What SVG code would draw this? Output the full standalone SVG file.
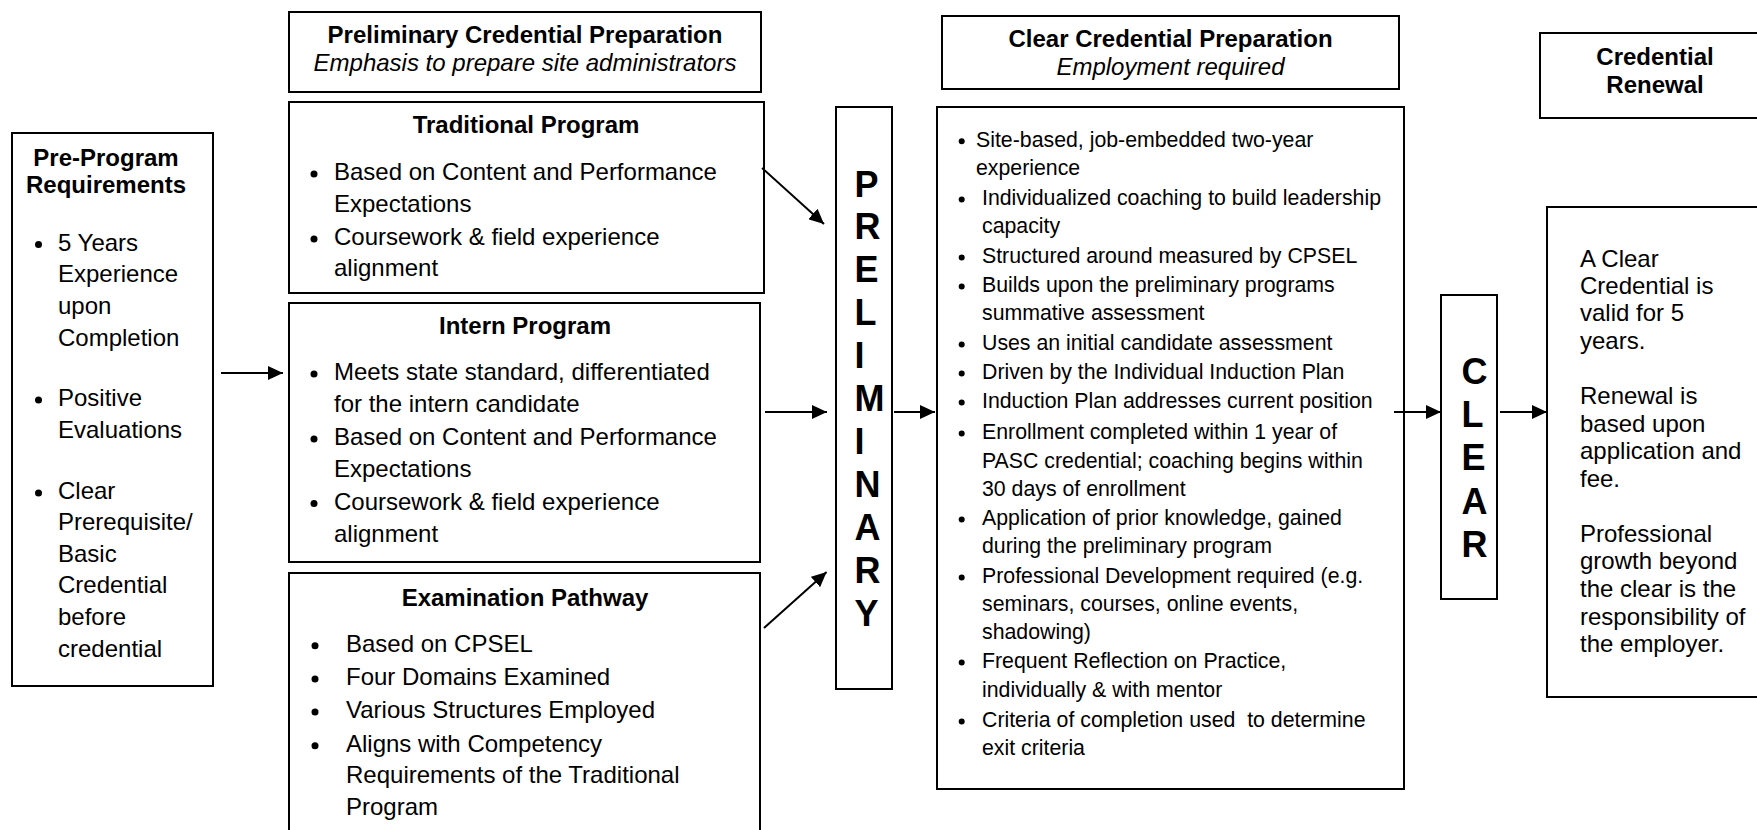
<svg xmlns="http://www.w3.org/2000/svg" width="1757" height="830" viewBox="0 0 1757 830">
<style>
.bx{fill:#fff;stroke:#000;stroke-width:2}
text{font-family:"Liberation Sans",Arial,sans-serif;fill:#000}
.t{font-size:24px}
.s{font-size:21.3px}
.b{font-weight:bold}
.i{font-style:italic}
.c{text-anchor:middle}
.big{font-size:36px;font-weight:bold}
.dot{fill:#000}
.con line{stroke:#000;stroke-width:2;marker-end:url(#ah)}
</style>
<defs>
<marker id="ah" markerUnits="userSpaceOnUse" markerWidth="16" markerHeight="14" refX="15" refY="7" orient="auto">
<path d="M0,0 L15,7 L0,14 z" fill="#000"/>
</marker>
</defs>
<rect width="1757" height="830" fill="#fff"/>

<g id="pre-program">
<rect class="bx" x="12" y="133" width="201" height="553"/>
<text class="t b c"><tspan x="106" y="166">Pre-Program</tspan><tspan x="106" y="193">Requirements</tspan></text>
<circle class="dot" cx="38.5" cy="244.5" r="3.5"/>
<circle class="dot" cx="38.5" cy="400" r="3.5"/>
<circle class="dot" cx="38.5" cy="493" r="3.5"/>
<text class="t"><tspan x="58" y="250.7">5 Years</tspan><tspan x="58" y="282">Experience</tspan><tspan x="58" y="313.5">upon</tspan><tspan x="58" y="345.5">Completion</tspan><tspan x="58" y="406">Positive</tspan><tspan x="58" y="437.5">Evaluations</tspan><tspan x="58" y="499">Clear</tspan><tspan x="58" y="530">Prerequisite/</tspan><tspan x="58" y="562">Basic</tspan><tspan x="58" y="593">Credential</tspan><tspan x="58" y="625">before</tspan><tspan x="58" y="656.5">credential</tspan></text>
</g>

<g id="prelim-header">
<rect class="bx" x="289" y="12" width="472" height="80"/>
<text class="t b c" x="525" y="43">Preliminary Credential Preparation</text>
<text class="t i c" x="525" y="71">Emphasis to prepare site administrators</text>
</g>

<g id="traditional">
<rect class="bx" x="289" y="102" width="475" height="191"/>
<text class="t b c" x="526" y="133">Traditional Program</text>
<circle class="dot" cx="314" cy="174" r="3.5"/>
<circle class="dot" cx="314" cy="239" r="3.5"/>
<text class="t"><tspan x="334" y="180">Based on Content and Performance</tspan><tspan x="334" y="211.5">Expectations</tspan><tspan x="334" y="245">Coursework &amp; field experience</tspan><tspan x="334" y="276">alignment</tspan></text>
</g>

<g id="intern">
<rect class="bx" x="289" y="303" width="471" height="259"/>
<text class="t b c" x="525" y="333.5">Intern Program</text>
<circle class="dot" cx="314" cy="374" r="3.5"/>
<circle class="dot" cx="314" cy="439" r="3.5"/>
<circle class="dot" cx="314" cy="503.5" r="3.5"/>
<text class="t"><tspan x="334" y="380">Meets state standard, differentiated</tspan><tspan x="334" y="412">for the intern candidate</tspan><tspan x="334" y="445">Based on Content and Performance</tspan><tspan x="334" y="477">Expectations</tspan><tspan x="334" y="509.5">Coursework &amp; field experience</tspan><tspan x="334" y="542">alignment</tspan></text>
</g>

<g id="exam">
<rect class="bx" x="289" y="573" width="471" height="262"/>
<text class="t b c" x="525" y="606">Examination Pathway</text>
<circle class="dot" cx="315" cy="645.7" r="3.5"/>
<circle class="dot" cx="315" cy="679" r="3.5"/>
<circle class="dot" cx="315" cy="712" r="3.5"/>
<circle class="dot" cx="315" cy="745.7" r="3.5"/>
<text class="t"><tspan x="346" y="651.7">Based on CPSEL</tspan><tspan x="346" y="685">Four Domains Examined</tspan><tspan x="346" y="718">Various Structures Employed</tspan><tspan x="346" y="751.7">Aligns with Competency</tspan><tspan x="346" y="783">Requirements of the Traditional</tspan><tspan x="346" y="815">Program</tspan></text>
</g>

<g id="preliminary">
<rect class="bx" x="836" y="107" width="56" height="582"/>
<text class="big"><tspan x="854.5" y="196.5">P</tspan><tspan x="854.5" y="239.4">R</tspan><tspan x="854.5" y="282.3">E</tspan><tspan x="854.5" y="325.2">L</tspan><tspan x="854.5" y="368.1">I</tspan><tspan x="854.5" y="411">M</tspan><tspan x="854.5" y="453.9">I</tspan><tspan x="854.5" y="496.8">N</tspan><tspan x="854.5" y="539.7">A</tspan><tspan x="854.5" y="582.6">R</tspan><tspan x="854.5" y="625.5">Y</tspan></text>
</g>

<g id="clear-header">
<rect class="bx" x="942" y="16" width="457" height="73"/>
<text class="t b c" x="1170.5" y="47">Clear Credential Preparation</text>
<text class="t i c" x="1170.5" y="75">Employment required</text>
</g>

<g id="clear-list">
<rect class="bx" x="937" y="107" width="467" height="682"/>
<g class="dots">
<circle class="dot" cx="961.7" cy="141.2" r="3"/>
<circle class="dot" cx="961.7" cy="199.5" r="3"/>
<circle class="dot" cx="961.7" cy="257.5" r="3"/>
<circle class="dot" cx="961.7" cy="286.5" r="3"/>
<circle class="dot" cx="961.7" cy="344.5" r="3"/>
<circle class="dot" cx="961.7" cy="373.5" r="3"/>
<circle class="dot" cx="961.7" cy="402.5" r="3"/>
<circle class="dot" cx="961.7" cy="433.5" r="3"/>
<circle class="dot" cx="961.7" cy="519.5" r="3"/>
<circle class="dot" cx="961.7" cy="577.5" r="3"/>
<circle class="dot" cx="961.7" cy="662.5" r="3"/>
<circle class="dot" cx="961.7" cy="721.5" r="3"/>
</g>
<text class="s" style="white-space:pre"><tspan x="976" y="146.7">Site-based, job-embedded two-year</tspan><tspan x="976" y="175">experience</tspan><tspan x="982" y="205">Individualized coaching to build leadership</tspan><tspan x="982" y="233">capacity</tspan><tspan x="982" y="263">Structured around measured by CPSEL</tspan><tspan x="982" y="292">Builds upon the preliminary programs</tspan><tspan x="982" y="320">summative assessment</tspan><tspan x="982" y="350">Uses an initial candidate assessment</tspan><tspan x="982" y="379">Driven by the Individual Induction Plan</tspan><tspan x="982" y="408">Induction Plan addresses current position</tspan><tspan x="982" y="439">Enrollment completed within 1 year of</tspan><tspan x="982" y="467.5">PASC credential; coaching begins within</tspan><tspan x="982" y="495.5">30 days of enrollment</tspan><tspan x="982" y="525">Application of prior knowledge, gained</tspan><tspan x="982" y="553">during the preliminary program</tspan><tspan x="982" y="583">Professional Development required (e.g.</tspan><tspan x="982" y="610.5">seminars, courses, online events,</tspan><tspan x="982" y="638.5">shadowing)</tspan><tspan x="982" y="668">Frequent Reflection on Practice,</tspan><tspan x="982" y="697">individually &amp; with mentor</tspan><tspan x="982" y="727">Criteria of completion used  to determine</tspan><tspan x="982" y="755">exit criteria</tspan></text>
</g>

<g id="clear">
<rect class="bx" x="1441" y="295" width="56" height="304"/>
<text class="big"><tspan x="1461.5" y="384">C</tspan><tspan x="1461.5" y="427.2">L</tspan><tspan x="1461.5" y="470.4">E</tspan><tspan x="1461.5" y="513.6">A</tspan><tspan x="1461.5" y="556.8">R</tspan></text>
</g>

<g id="renewal-header">
<rect class="bx" x="1540" y="33" width="222" height="85"/>
<text class="t b c"><tspan x="1655" y="65">Credential</tspan><tspan x="1655" y="93">Renewal</tspan></text>
</g>

<g id="renewal">
<rect class="bx" x="1547" y="207" width="215" height="490"/>
<text class="t"><tspan x="1580" y="266.5">A Clear</tspan><tspan x="1580" y="294">Credential is</tspan><tspan x="1580" y="321">valid for 5</tspan><tspan x="1580" y="348.5">years.</tspan><tspan x="1580" y="404">Renewal is</tspan><tspan x="1580" y="431.5">based upon</tspan><tspan x="1580" y="459">application and</tspan><tspan x="1580" y="486.5">fee.</tspan><tspan x="1580" y="541.5">Professional</tspan><tspan x="1580" y="569">growth beyond</tspan><tspan x="1580" y="597">the clear is the</tspan><tspan x="1580" y="624.5">responsibility of</tspan><tspan x="1580" y="652">the employer.</tspan></text>
</g>

<g id="connectors" class="con">
<line x1="221" y1="373" x2="283" y2="373"/>
<line x1="762" y1="168" x2="824" y2="224"/>
<line x1="765" y1="412" x2="827" y2="412"/>
<line x1="764" y1="628" x2="826.6" y2="572"/>
<line x1="894" y1="412" x2="935" y2="412"/>
<line x1="1394" y1="412" x2="1441" y2="412"/>
<line x1="1500" y1="412" x2="1547" y2="412"/>
</g>
</svg>
